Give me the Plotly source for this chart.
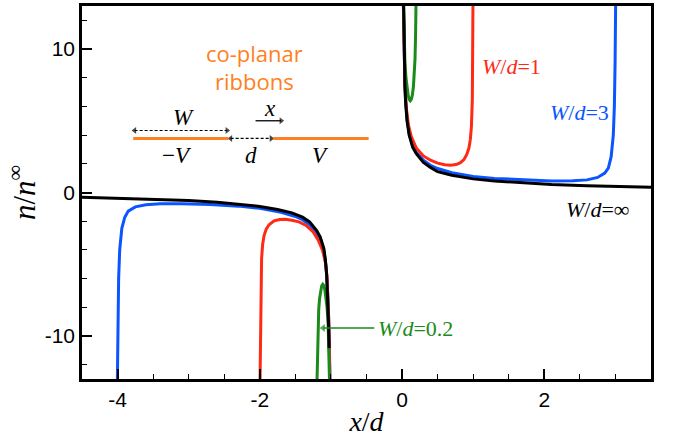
import plotly.graph_objects as go

# ---------------- data ----------------
# W/d = infinity (black)
inf_x_pos = [0.022, 0.03, 0.04, 0.05, 0.07, 0.1, 0.15, 0.2, 0.3, 0.4, 0.5, 0.7, 1.0, 1.3, 1.7, 2.1, 2.6, 3.0, 3.5]
inf_y_pos = [13.2, 9.6, 7.4, 6.3, 5.0, 4.0, 3.15, 2.7, 2.1, 1.75, 1.45, 1.2, 0.95, 0.8, 0.67, 0.56, 0.47, 0.42, 0.36]
inf_x_neg = [-4.5, -4.0, -3.5, -3.0, -2.6, -2.3, -2.0, -1.75, -1.55, -1.4, -1.3, -1.2, -1.15, -1.1, -1.08, -1.06, -1.045, -1.035, -1.025]
inf_y_neg = [-0.33, -0.39, -0.46, -0.56, -0.68, -0.8, -0.97, -1.18, -1.42, -1.72, -2.05, -2.65, -3.1, -3.9, -4.6, -5.7, -7.2, -9.0, -10.85]

# W/d = 3 (blue)
w3_x_pos = [0.018, 0.028, 0.04, 0.05, 0.07, 0.1, 0.15, 0.2, 0.3, 0.4, 0.5, 0.7, 1.0, 1.3, 1.7, 2.1, 2.4, 2.6, 2.75, 2.85, 2.9, 2.94, 2.97, 2.985, 2.995, 3.003]
w3_y_pos = [13.2, 9.4, 7.5, 6.4, 5.1, 4.1, 3.25, 2.8, 2.25, 1.9, 1.67, 1.38, 1.12, 0.98, 0.87, 0.81, 0.82, 0.88, 1.05, 1.35, 1.7, 2.5, 4.0, 6.0, 9.0, 13.2]
w3_x_neg = [-4.003, -3.995, -3.985, -3.97, -3.94, -3.9, -3.85, -3.75, -3.6, -3.4, -3.1, -2.7, -2.3, -2.0, -1.7, -1.5, -1.4, -1.3, -1.2, -1.15, -1.1, -1.07, -1.05, -1.04, -1.028, -1.012]
w3_y_neg = [-13.2, -9.0, -6.0, -4.0, -2.5, -1.75, -1.3, -1.0, -0.85, -0.79, -0.78, -0.83, -0.95, -1.1, -1.38, -1.67, -1.9, -2.25, -2.8, -3.25, -4.1, -5.1, -6.4, -7.5, -9.4, -13.2]

# W/d = 1 (red)
w1_x_pos = [0.018, 0.028, 0.04, 0.06, 0.09, 0.13, 0.2, 0.3, 0.4, 0.5, 0.6, 0.68, 0.76, 0.82, 0.87, 0.91, 0.94, 0.96, 0.975, 0.988, 0.997]
w1_y_pos = [13.2, 9.5, 7.6, 5.9, 4.7, 3.9, 3.1, 2.55, 2.25, 2.05, 1.93, 1.9, 1.95, 2.08, 2.3, 2.65, 3.1, 3.7, 4.6, 6.5, 13.2]
w1_x_neg = [-1.997, -1.988, -1.975, -1.96, -1.94, -1.91, -1.87, -1.8, -1.72, -1.64, -1.55, -1.45, -1.35, -1.25, -1.18, -1.12, -1.08, -1.055, -1.04, -1.028, -1.015]
w1_y_neg = [-13.2, -6.5, -4.6, -3.6, -3.0, -2.55, -2.25, -1.98, -1.88, -1.87, -1.93, -2.05, -2.3, -2.75, -3.3, -4.0, -4.8, -5.9, -7.4, -9.4, -13.2]

# W/d = 0.2 (green)
w02_x_pos = [0.02, 0.03, 0.04, 0.055, 0.07, 0.085, 0.1, 0.115, 0.13, 0.145, 0.16, 0.172, 0.182, 0.19, 0.196]
w02_y_pos = [13.2, 10.5, 9.1, 8.0, 7.3, 6.8, 6.5, 6.4, 6.5, 6.8, 7.4, 8.2, 9.3, 11.0, 13.2]
w02_x_neg = [-1.196, -1.19, -1.182, -1.172, -1.16, -1.145, -1.13, -1.115, -1.1, -1.085, -1.07, -1.055, -1.04, -1.03, -1.02]
w02_y_neg = [-13.2, -11.0, -9.3, -8.2, -7.4, -6.8, -6.5, -6.4, -6.5, -6.8, -7.3, -8.0, -9.1, -10.5, -13.2]

x_ticks = [-4, -2, 0, 2]
y_ticks = [-10, 0, 10]

# ---------------- styles ----------------
BLACK = "#000000"
BLUE = "#0A55FF"
RED = "#FF2A14"
GREEN = "#1A8A1A"
ORANGE = "#FF8022"
SERIF = "Liberation Serif"
SANS = "Liberation Sans"

fig = go.Figure()

def add_curve(xs, ys, color):
    fig.add_trace(go.Scatter(x=xs, y=ys, mode="lines",
                             line=dict(color=color, width=3),
                             showlegend=False, hoverinfo="skip"))

add_curve(w3_x_pos, w3_y_pos, BLUE)
add_curve(w3_x_neg, w3_y_neg, BLUE)
add_curve(w1_x_pos, w1_y_pos, RED)
add_curve(w1_x_neg, w1_y_neg, RED)
add_curve(w02_x_pos, w02_y_pos, GREEN)
add_curve(w02_x_neg, w02_y_neg, GREEN)
add_curve(inf_x_pos, inf_y_pos, BLACK)
add_curve(inf_x_neg, inf_y_neg, BLACK)

# ---------------- inset sketch ----------------
rib_y = 3.77
fig.add_shape(type="line", x0=-3.78, x1=-2.44, y0=rib_y, y1=rib_y, line=dict(color=ORANGE, width=3))
fig.add_shape(type="line", x0=-1.81, x1=-0.47, y0=rib_y, y1=rib_y, line=dict(color=ORANGE, width=3))

def arrow_line(x0, x1, y, color, width, dash, head_size, both=False):
    syms = ["triangle-left" if both else "circle", "triangle-right" if x1 > x0 else "triangle-left"]
    sizes = [head_size if both else 0, head_size]
    fig.add_trace(go.Scatter(x=[x0, x1], y=[y, y], mode="lines+markers",
                             line=dict(color=color, width=width, dash=dash),
                             marker=dict(symbol=syms, size=sizes, color=color, line=dict(width=0)),
                             showlegend=False, hoverinfo="skip", cliponaxis=False))

arrow_line(-3.76, -2.46, 4.32, BLACK, 1.2, "3px,2px", 6, both=True)
arrow_line(-2.41, -1.84, 3.77, BLACK, 1.2, "3px,2px", 6, both=True)
arrow_line(-2.06, -1.70, 5.0, BLACK, 1.3, "solid", 6)
arrow_line(-0.39, -1.11, -9.45, GREEN, 1.5, "solid", 7)

ann = []

def txt(x, y, s, size, color=BLACK, family=SERIF, xanchor="center"):
    ann.append(dict(x=x, y=y, xref="x", yref="y", text=s, showarrow=False,
                    font=dict(family=family, size=size, color=color),
                    xanchor=xanchor, yanchor="middle"))

txt(-2.08, 9.7, "co-planar", 22, ORANGE, "Open Sans")
txt(-2.08, 7.8, "ribbons", 22, ORANGE, "Open Sans")
txt(-3.08, 5.25, "<i>W</i>", 23)
txt(-1.85, 5.85, "<i>x</i>", 23)
txt(-3.16, 2.55, "−<i>V</i>", 23)
txt(-2.13, 2.55, "<i>d</i>", 23)
txt(-1.15, 2.55, "<i>V</i>", 23)

# curve labels
txt(1.54, 8.8, "<i>W</i>/<i>d</i>=1", 22, RED)
txt(2.49, 5.57, "<i>W</i>/<i>d</i>=3", 22, BLUE)
txt(2.75, -1.19, "<i>W</i>/<i>d</i>=∞", 22, BLACK)
txt(-0.37, -9.45, "<i>W</i>/<i>d</i>=0.2", 22, GREEN, xanchor="left")

axis_common = dict(showline=True, linecolor=BLACK, linewidth=2.5, mirror=True,
                   ticks="inside", ticklen=10, tickwidth=1.8, tickcolor=BLACK,
                   showgrid=False, zeroline=False,
                   tickfont=dict(family=SANS, size=21, color=BLACK))

fig.update_layout(
    width=675, height=445,
    margin=dict(l=82, r=24, t=3, b=66),
    paper_bgcolor="white", plot_bgcolor="white",
    annotations=ann,
    xaxis=dict(range=[-4.5, 3.5], tickvals=x_ticks, ticktext=[str(v) for v in x_ticks],
               minor=dict(dtick=0.5, tick0=0, ticks="inside", ticklen=5, tickwidth=1.3, tickcolor=BLACK),
               title=dict(text="<i>x</i>/<i>d</i>", font=dict(family=SERIF, size=28, color=BLACK), standoff=2),
               **axis_common),
    yaxis=dict(range=[-13, 13], tickvals=y_ticks, ticktext=[str(v) for v in y_ticks],
               minor=dict(dtick=2, tick0=0, ticks="inside", ticklen=5, tickwidth=1.3, tickcolor=BLACK),
               title=dict(text="<i>n</i>/<i>n</i><sup>∞</sup>", font=dict(family=SERIF, size=31, color=BLACK), standoff=0),
               **axis_common),
)

fig.write_html("out.html")
